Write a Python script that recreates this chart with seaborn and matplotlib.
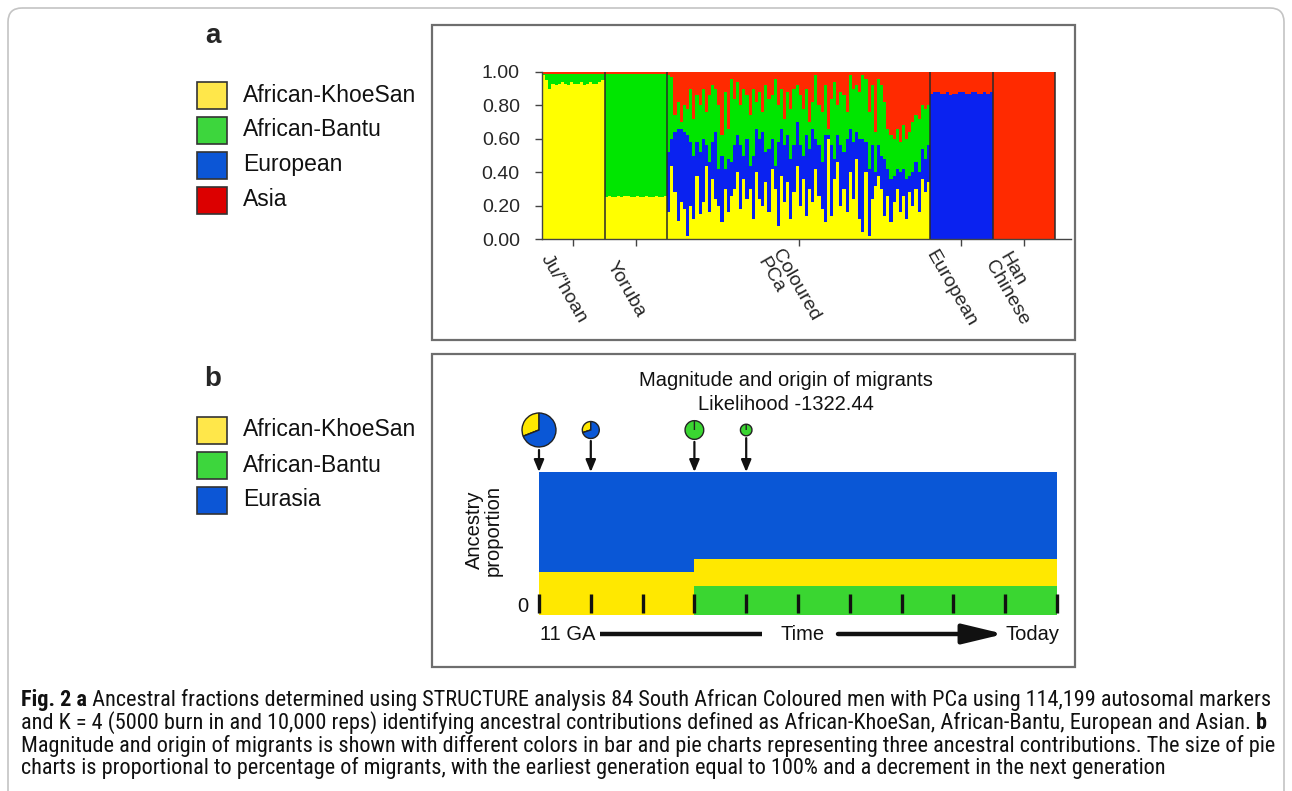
import numpy as np
import pandas as pd
import matplotlib
matplotlib.use("Agg")
import matplotlib.pyplot as plt
import seaborn as sns
from matplotlib.patches import Rectangle, FancyBboxPatch
from matplotlib import font_manager
from matplotlib.font_manager import FontProperties

# ---------------- data ----------------
components_a = ["African-KhoeSan", "African-Bantu", "European", "Asia"]
components_b = ["African-KhoeSan", "African-Bantu", "Eurasia"]
group_labels = ['Ju/"hoan', "Yoruba", "Coloured\nPCa", "European", "Han\nChinese"]

juhoan_khoesan = [0.98, 0.95, 0.90, 0.93, 0.92, 0.93, 0.94, 0.93, 0.92, 0.94,
                  0.93, 0.93, 0.94, 0.92, 0.93, 0.94, 0.93, 0.93, 0.94, 0.95]
juhoan_bantu = [0.01, 0.04, 0.09, 0.06, 0.07, 0.06, 0.05, 0.06, 0.07, 0.05,
                0.06, 0.06, 0.05, 0.07, 0.06, 0.05, 0.06, 0.06, 0.05, 0.04]
yoruba_khoesan = [0.25, 0.26, 0.25, 0.25, 0.26, 0.25, 0.26, 0.26, 0.25, 0.25,
                  0.26, 0.25, 0.25, 0.26, 0.25, 0.25, 0.26, 0.25, 0.25, 0.26]
yoruba_bantu = [0.74, 0.73, 0.74, 0.74, 0.73, 0.74, 0.73, 0.73, 0.74, 0.74,
                0.73, 0.74, 0.74, 0.73, 0.74, 0.74, 0.73, 0.74, 0.74, 0.73]
coloured_khoesan = [0.16, 0.44, 0.28, 0.11, 0.22, 0.18, 0.02, 0.20, 0.12, 0.38,
                    0.15, 0.22, 0.44, 0.16, 0.36, 0.24, 0.20, 0.10, 0.30, 0.16,
                    0.26, 0.30, 0.40, 0.18, 0.36, 0.24, 0.30, 0.12, 0.40, 0.24,
                    0.20, 0.34, 0.16, 0.42, 0.30, 0.08, 0.38, 0.22, 0.34, 0.12,
                    0.28, 0.44, 0.20, 0.36, 0.14, 0.30, 0.22, 0.42, 0.26, 0.18,
                    0.10, 0.60, 0.14, 0.36, 0.46, 0.20, 0.30, 0.16, 0.40, 0.24,
                    0.48, 0.12, 0.04, 0.40, 0.02, 0.24, 0.32, 0.38, 0.30, 0.14,
                    0.26, 0.10, 0.22, 0.30, 0.16, 0.26, 0.12, 0.28, 0.20, 0.30,
                    0.16, 0.36, 0.28, 0.34]
coloured_european = [0.36, 0.16, 0.36, 0.55, 0.44, 0.46, 0.60, 0.38, 0.38, 0.20,
                     0.37, 0.38, 0.12, 0.30, 0.22, 0.40, 0.22, 0.40, 0.12, 0.32,
                     0.20, 0.26, 0.22, 0.38, 0.14, 0.36, 0.14, 0.38, 0.26, 0.36,
                     0.44, 0.18, 0.38, 0.18, 0.14, 0.50, 0.28, 0.34, 0.28, 0.36,
                     0.28, 0.26, 0.36, 0.14, 0.48, 0.24, 0.44, 0.18, 0.30, 0.28,
                     0.52, 0.02, 0.42, 0.12, 0.16, 0.36, 0.22, 0.44, 0.26, 0.34,
                     0.16, 0.48, 0.56, 0.18, 0.40, 0.32, 0.08, 0.18, 0.20, 0.34,
                     0.16, 0.26, 0.16, 0.12, 0.24, 0.16, 0.24, 0.10, 0.20, 0.16,
                     0.24, 0.18, 0.20, 0.22]
coloured_bantu = [0.46, 0.37, 0.10, 0.16, 0.04, 0.16, 0.16, 0.32, 0.22, 0.28,
                  0.28, 0.30, 0.20, 0.40, 0.34, 0.26, 0.38, 0.12, 0.46, 0.18,
                  0.50, 0.28, 0.32, 0.24, 0.40, 0.26, 0.30, 0.40, 0.16, 0.28,
                  0.12, 0.40, 0.30, 0.26, 0.52, 0.22, 0.24, 0.16, 0.26, 0.30,
                  0.34, 0.22, 0.30, 0.28, 0.28, 0.16, 0.16, 0.38, 0.24, 0.30,
                  0.30, 0.04, 0.28, 0.46, 0.18, 0.32, 0.34, 0.16, 0.32, 0.32,
                  0.28, 0.28, 0.38, 0.38, 0.34, 0.36, 0.24, 0.40, 0.42, 0.34,
                  0.24, 0.26, 0.22, 0.24, 0.18, 0.26, 0.24, 0.26, 0.30, 0.28,
                  0.32, 0.26, 0.30, 0.24]
european_european = [0.87, 0.88, 0.88, 0.87, 0.87, 0.88, 0.86, 0.87, 0.87, 0.88,
                     0.88, 0.87, 0.87, 0.88, 0.88, 0.87, 0.87, 0.88, 0.87, 0.88]
han_asia = [1.0] * 20

generations = list(range(10))
gen_khoesan = [0.30, 0.30, 0.30, 0.19, 0.19, 0.19, 0.19, 0.19, 0.19, 0.19]
gen_bantu = [0.00, 0.00, 0.00, 0.20, 0.20, 0.20, 0.20, 0.20, 0.20, 0.20]
gen_eurasia = [0.70, 0.70, 0.70, 0.61, 0.61, 0.61, 0.61, 0.61, 0.61, 0.61]

pie_generation = [0, 1, 3, 4]
pie_khoesan = [0.31, 0.30, 0.0, 0.0]
pie_bantu = [0.0, 0.0, 1.0, 1.0]
pie_eurasia = [0.69, 0.70, 0.0, 0.0]
pie_size = [1.0, 0.5, 0.55, 0.34]

yticks_a = [0.0, 0.2, 0.4, 0.6, 0.8, 1.0]
ytick_labels_a = ["0.00", "0.20", "0.40", "0.60", "0.80", "1.00"]

caption_lines = [
    ("Fig. 2 a", " Ancestral fractions determined using STRUCTURE analysis 84 South African Coloured men with PCa using 114,199 autosomal markers", None),
    (None, "and K = 4 (5000 burn in and 10,000 reps) identifying ancestral contributions defined as African-KhoeSan, African-Bantu, European and Asian. ", "b"),
    (None, "Magnitude and origin of migrants is shown with different colors in bar and pie charts representing three ancestral contributions. The size of pie", None),
    (None, "charts is proportional to percentage of migrants, with the earliest generation equal to 100% and a decrement in the next generation", None),
]

# ---------------- colours ----------------
bar_yellow, bar_green, bar_blue, bar_red = "#FFFF00", "#00E600", "#0A22F0", "#FF2A00"
leg_colors_a = ["#FFE74A", "#3DD63D", "#0C56D6", "#DC0000"]
leg_colors_b = ["#FFE74A", "#3DD63D", "#0C56D6"]
b_blue, b_yellow, b_green = "#0A57D6", "#FFE800", "#3AD631"

# ---------------- setup ----------------
sns.set_theme(style="white")
plt.rcParams["font.family"] = ["Liberation Sans", "DejaVu Sans"]
W, H = 1292, 791
fig = plt.figure(figsize=(W / 100, H / 100), dpi=100)
fig.patch.set_facecolor("white")


def frac_rect(l, t, r, b):
    return [l / W, 1 - b / H, (r - l) / W, (b - t) / H]


# ---------------- panel a ----------------
sizes = [len(juhoan_khoesan), len(yoruba_khoesan), len(coloured_khoesan),
         len(european_european), len(han_asia)]
z = lambda n: [0.0] * n
khoe = np.array(juhoan_khoesan + yoruba_khoesan + coloured_khoesan + z(sizes[3]) + z(sizes[4]))
bantu = np.array(juhoan_bantu + yoruba_bantu + coloured_bantu + z(sizes[3]) + z(sizes[4]))
eur = np.array(z(sizes[0]) + z(sizes[1]) + coloured_european + european_european + z(sizes[4]))
asia = np.clip(1 - khoe - bantu - eur, 0, None)
asia[-sizes[4]:] = han_asia
N = len(khoe)
df = pd.DataFrame({"ind": np.arange(N)})
df["top_y"] = khoe
df["top_b"] = khoe + eur
df["top_g"] = khoe + eur + bantu
df["top_r"] = khoe + eur + bantu + asia

ax_a = fig.add_axes(frac_rect(542, 72, 1071, 239))
for col, c in [("top_r", bar_red), ("top_g", bar_green), ("top_b", bar_blue), ("top_y", bar_yellow)]:
    sns.barplot(data=df, x="ind", y=col, color=c, saturation=1, width=1,
                native_scale=True, errorbar=None, linewidth=0, antialiased=False,
                ax=ax_a)
ax_a.set_xlim(-0.5, N - 0.5 + 5)
ax_a.set_ylim(0, 1)
ax_a.set_xlabel("")
ax_a.set_ylabel("")
bounds = np.cumsum(sizes) - 0.5
ax_a.vlines(bounds, 0, 1, colors="#2a2a2a", lw=1.1)
for s in ["top", "right"]:
    ax_a.spines[s].set_visible(False)
for s in ["left", "bottom"]:
    ax_a.spines[s].set_color("#444444")
    ax_a.spines[s].set_linewidth(1.0)
centers = np.cumsum(sizes) - np.array(sizes) / 2 - 0.5
ax_a.set_xticks(centers)
ax_a.set_xticklabels([])
ax_a.set_yticks(yticks_a)
ax_a.set_yticklabels(ytick_labels_a)
ax_a.tick_params(axis="both", bottom=True, left=True, direction="out", length=5,
                 width=1, color="#444444", labelsize=14, pad=11)
for x, lab in zip(centers, group_labels):
    ax_a.annotate(lab, xy=(x, 0), xycoords=("data", "axes fraction"),
                  xytext=(-10, -50), textcoords="offset pixels",
                  ha="center", va="center", rotation=-60, rotation_mode="anchor",
                  multialignment="left", fontsize=14, linespacing=1.0)

# ---------------- panel b ----------------
ax_b = fig.add_axes(frac_rect(539, 472, 1057, 615))
dfb = pd.DataFrame({"gen": generations})
dfb["g"] = np.array(gen_bantu)
dfb["gy"] = np.array(gen_bantu) + np.array(gen_khoesan)
dfb["all"] = np.array(gen_bantu) + np.array(gen_khoesan) + np.array(gen_eurasia)
for col, c in [("all", b_blue), ("gy", b_yellow), ("g", b_green)]:
    sns.barplot(data=dfb, x="gen", y=col, color=c, saturation=1, width=1,
                native_scale=True, errorbar=None, linewidth=0, antialiased=False,
                ax=ax_b)
ax_b.set_xlim(-0.5, len(generations) - 0.5)
ax_b.set_ylim(0, 1)
ax_b.axis("off")
ax_b.vlines(np.arange(len(generations) + 1) - 0.5, 0.015, 0.15,
            colors="#111111", lw=2.4, clip_on=False)

# pies
pie_px = []
for g, fk, fb, fe, sc in zip(pie_generation, pie_khoesan, pie_bantu, pie_eurasia, pie_size):
    dx, dy = ax_b.transData.transform((g - 0.5, 1.0))
    cx = dx
    cy = H - dy - 42
    r = 18 * sc
    pax = fig.add_axes([(cx - r) / W, 1 - (cy + r) / H, 2 * r / W, 2 * r / H])
    pax.pie([fk, fb, fe], colors=[b_yellow, b_green, b_blue], startangle=90,
            counterclock=True, wedgeprops=dict(edgecolor="#222222", linewidth=1.0))
    pax.set_xlim(-1.06, 1.06)
    pax.set_ylim(-1.06, 1.06)
    pax.axis("off")
    pie_px.append((cx, cy, r, H - dy))

# ---------------- overlay (decoration) ----------------
ax_o = fig.add_axes([0, 0, 1, 1], zorder=10)
ax_o.set_xlim(0, W)
ax_o.set_ylim(H, 0)
ax_o.axis("off")
ax_o.patch.set_alpha(0)

ax_o.add_patch(FancyBboxPatch((8, 8), 1276, 820, boxstyle="round,pad=0,rounding_size=14",
                              ec="#c4c4c4", fc="none", lw=1.2, clip_on=False))
ax_o.add_patch(Rectangle((432, 25), 643, 315, ec="#6e6e6e", fc="none", lw=1.6))
ax_o.add_patch(Rectangle((432, 354), 643, 313, ec="#6e6e6e", fc="none", lw=1.6))

ax_o.text(213, 36, "a", fontsize=20, fontweight="bold", ha="center", va="center")
ax_o.text(213, 379, "b", fontsize=20, fontweight="bold", ha="center", va="center")

for i, (lab, c) in enumerate(zip(components_a, leg_colors_a)):
    cy = 95 + 35 * i
    ax_o.add_patch(Rectangle((197, cy - 13.5), 30, 27, fc=c, ec="#333333", lw=1.2))
    ax_o.text(243, cy, lab, fontsize=16.5, va="center", ha="left", color="#111111")
for i, (lab, c) in enumerate(zip(components_b, leg_colors_b)):
    cy = 430 + 35 * i
    ax_o.add_patch(Rectangle((197, cy - 13.5), 30, 27, fc=c, ec="#333333", lw=1.2))
    ax_o.text(243, cy, lab, fontsize=16.5, va="center", ha="left", color="#111111")

ax_o.text(786, 381, "Magnitude and origin of migrants", fontsize=14.5, ha="center", va="center", color="#111111")
ax_o.text(786, 405, "Likelihood -1322.44", fontsize=14.5, ha="center", va="center", color="#111111")
ax_o.text(484, 530, "Ancestry\nproportion", fontsize=14.5, rotation=90, ha="center", va="center",
          linespacing=1.0, color="#111111")
ax_o.text(523, 606, "0", fontsize=14.5, ha="center", va="center", color="#111111")

for cx, cy, r, ytop in pie_px:
    ax_o.annotate("", xy=(cx, ytop), xytext=(cx, cy + r + 2),
                  arrowprops=dict(arrowstyle="-|>,head_length=0.6,head_width=0.25",
                                  lw=1.6, color="#111111", shrinkA=0, shrinkB=0,
                                  mutation_scale=12))

ax_o.text(540, 634, "11 GA", fontsize=14.5, ha="left", va="center", color="#111111")
ax_o.plot([600, 762], [634, 634], color="#111111", lw=3.2, solid_capstyle="butt")
ax_o.text(803, 634, "Time", fontsize=14.5, ha="center", va="center", color="#111111")
ax_o.annotate("", xy=(1004, 634), xytext=(838, 634),
              arrowprops=dict(arrowstyle="-|>,head_length=1.25,head_width=0.3",
                              lw=3.2, color="#111111", shrinkA=0, shrinkB=0,
                              mutation_scale=20))
ax_o.text(1005, 634, "Today", fontsize=14.5, ha="left", va="center", color="#111111")


# ---------------- caption (condensed font if available) ----------------
def wnum(w):
    if isinstance(w, (int, float)):
        return int(w)
    return font_manager.weight_dict.get(str(w).lower(), 400)


def is_cond(f):
    return ("Condensed" in f.name or "Narrow" in f.name
            or str(f.stretch) in ("condensed", "semi-condensed", "extra-condensed"))


prefs = ["Open Sans", "Noto Sans", "Roboto", "Liberation Sans", "DejaVu Sans"]


def rank(f):
    for i, p in enumerate(prefs):
        if p in f.name:
            return i
    return len(prefs)


entries = [f for f in font_manager.fontManager.ttflist
           if is_cond(f) and f.style == "normal" and "CJK" not in f.name]
reg = sorted([f for f in entries if 350 <= wnum(f.weight) <= 450],
             key=lambda f: (rank(f), 0 if str(f.stretch) == "semi-condensed" else 1))
if reg:
    base = reg[0]
    fp_reg = FontProperties(fname=base.fname)
    bolds = sorted([f for f in entries if wnum(f.weight) >= 600 and rank(f) == rank(base)],
                   key=lambda f: (str(f.stretch) != str(base.stretch), wnum(f.weight)))
    fp_bold = FontProperties(fname=bolds[0].fname) if bolds else FontProperties(family="Liberation Sans", weight="bold")
else:
    fp_reg = FontProperties(family="Liberation Sans")
    fp_bold = FontProperties(family="Liberation Sans", weight="bold")

renderer = fig.canvas.get_renderer()
tmp = ax_o.text(0, 0, caption_lines[0][0] + caption_lines[0][1], fontproperties=fp_reg, fontsize=12)
wtmp = tmp.get_window_extent(renderer).width
tmp.remove()
cap_size = 12 * 1245 / wtmp
fp_reg.set_size(cap_size)
fp_bold.set_size(cap_size)
for (bold0, body, bold1), y in zip(caption_lines, [700, 723, 746, 768]):
    if bold0:
        t0 = ax_o.text(21, y, bold0, fontproperties=fp_bold,
                       ha="left", va="center", color="#111111")
        t1 = ax_o.annotate(body, xy=(1, 0), xycoords=t0, ha="left", va="bottom",
                           fontproperties=fp_reg, color="#111111")
    else:
        t1 = ax_o.text(21, y, body, fontproperties=fp_reg,
                       ha="left", va="center", color="#111111")
    if bold1:
        ax_o.annotate(bold1, xy=(1, 0), xycoords=t1, ha="left", va="bottom",
                      fontproperties=fp_bold, color="#111111")

fig.savefig("out.png", dpi=100)
